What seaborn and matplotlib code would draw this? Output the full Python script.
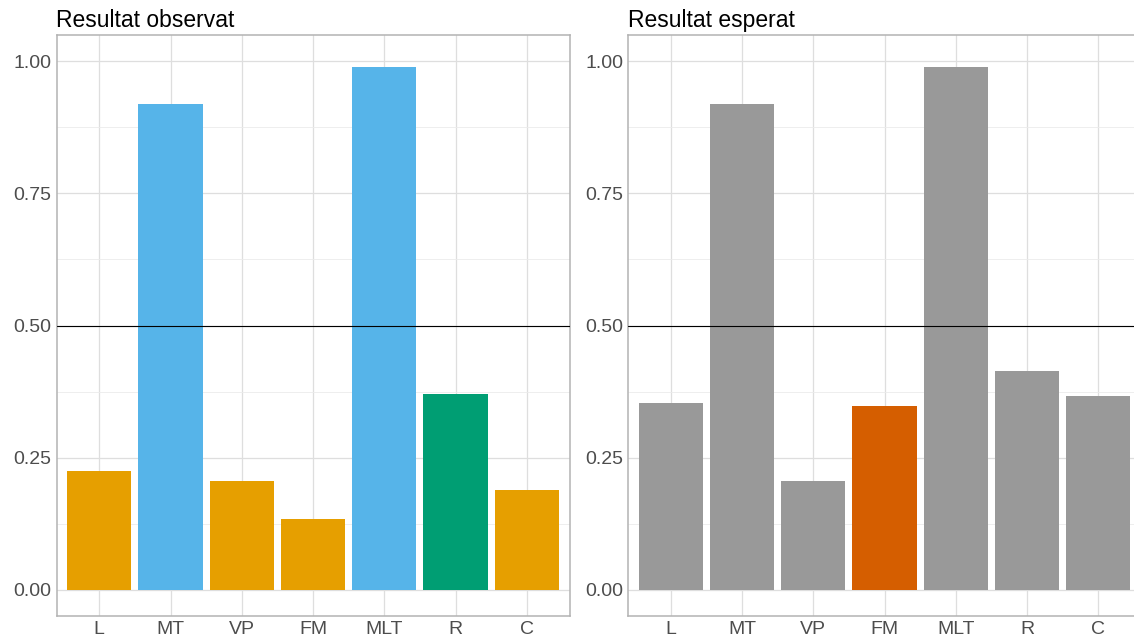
import matplotlib.pyplot as plt
import seaborn as sns
from matplotlib.ticker import MultipleLocator

categories = ['L', 'MT', 'VP', 'FM', 'MLT', 'R', 'C']

observed = [0.224, 0.920, 0.205, 0.134, 0.990, 0.371, 0.189]
observed_colors = ['#E69F00', '#56B4E9', '#E69F00', '#E69F00', '#56B4E9', '#009E73', '#E69F00']

expected = [0.354, 0.920, 0.205, 0.348, 0.990, 0.413, 0.367]
expected_colors = ['#999999', '#999999', '#999999', '#D55E00', '#999999', '#999999', '#999999']

titles = ['Resultat observat', 'Resultat esperat']

sns.set_style('white')
plt.rcParams['font.family'] = ['Liberation Sans', 'DejaVu Sans']

W, H = 1134, 638
fig = plt.figure(figsize=(W / 100, H / 100), dpi=100)

# panel boxes in pixels: left, top, right, bottom
boxes = [(56.5, 35, 569.5, 616), (628, 35, 1141, 616)]

for box, vals, cols, title in zip(boxes, [observed, expected],
                                  [observed_colors, expected_colors], titles):
    l, t, r, b = box
    ax = fig.add_axes([l / W, 1 - b / H, (r - l) / W, (b - t) / H])
    sns.barplot(x=categories, y=vals, hue=categories, palette=cols,
                width=0.9, legend=False, saturation=1, linewidth=0,
                ax=ax, zorder=3)
    ax.axhline(0.5, color='black', lw=0.8, zorder=4)
    ax.set_xlim(-0.6, 6.6)
    ax.set_ylim(-0.05, 1.05)
    ax.yaxis.set_minor_locator(MultipleLocator(0.125))
    ax.set_yticks([0, 0.25, 0.5, 0.75, 1.0])
    ax.set_yticklabels(['0.00', '0.25', '0.50', '0.75', '1.00'])
    ax.grid(True, which='major', color='#DEDEDE', lw=0.9, zorder=0)
    ax.grid(True, which='minor', axis='y', color='#EBEBEB', lw=0.6, zorder=0)
    ax.set_axisbelow(True)
    for s in ax.spines.values():
        s.set_color('#B3B3B3')
        s.set_linewidth(1.1)
    ax.tick_params(axis='both', which='major', length=2.5, width=0.8,
                   color='#B3B3B3', labelsize=14, labelcolor='#4D4D4D', pad=1)
    ax.tick_params(axis='y', which='minor', length=0)
    ax.set_xlabel('')
    ax.set_ylabel('')
    ax.set_title(title, loc='left', fontsize=16.5, color='black', pad=6)

fig.savefig('out.png', dpi=100)
